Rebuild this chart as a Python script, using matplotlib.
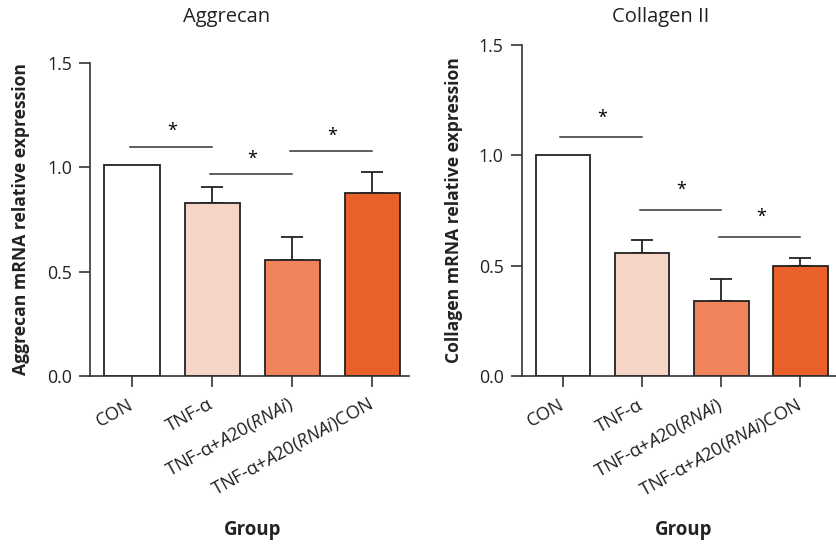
import numpy as np
import matplotlib
matplotlib.use('Agg')
import matplotlib.pyplot as plt

plt.rcParams['font.family'] = ['Open Sans', 'DejaVu Sans']
plt.rcParams['mathtext.fontset'] = 'custom'
plt.rcParams['mathtext.rm'] = 'Open Sans'
plt.rcParams['mathtext.it'] = 'Open Sans:italic'

## data
groups = ['CON', 'TNF-α', r'TNF-α+$\it{A20(RNAi)}$', r'TNF-α+$\it{A20(RNAi)}$CON']
aggrecan = [1.01, 0.83, 0.557, 0.875]
aggrecan_err = [0.0, 0.077, 0.11, 0.104]
aggrecan_sig = [(0, 1, 1.10), (1, 2, 0.968), (2, 3, 1.077)]
collagen = [1.00, 0.559, 0.341, 0.50]
collagen_err = [0.0, 0.057, 0.097, 0.036]
collagen_sig = [(0, 1, 1.081), (1, 2, 0.754), (2, 3, 0.631)]
colors = ['#FFFFFF', '#F6D5C6', '#F1845A', '#E9602A']

fig = plt.figure(figsize=(8.36, 5.44), dpi=100)
ax1 = fig.add_axes([0.1077, 0.3094, 0.3816, 0.5743])
ax2 = fig.add_axes([0.624, 0.3088, 0.376, 0.6085])

def draw(ax, vals, errs, sig, xlim, star_off):
    x = np.arange(len(vals))
    ax.bar(x, vals, width=0.69, color=colors, edgecolor='#222222', linewidth=1.3, zorder=2)
    ax.errorbar(x[1:], vals[1:], yerr=[np.zeros(3), errs[1:]], fmt='none',
                ecolor='#222222', elinewidth=1.3, capsize=8, capthick=1.3, zorder=1)
    for a, b, h in sig:
        ax.plot([a - 0.03, b], [h, h], color='#333333', linewidth=1.1)
        ax.text((a + b) / 2, h + star_off, '*', ha='center', va='center', fontsize=13)
    ax.set_xlim(*xlim)
    ax.set_ylim(0, 1.5)
    ax.set_yticks([0, 0.5, 1.0, 1.5])
    ax.set_yticklabels(['0.0', '0.5', '1.0', '1.5'])
    ax.set_xticks(x)
    ax.set_xticklabels(groups, rotation=29, ha='right', va='center', rotation_mode='anchor',
                       fontsize=13.2)
    for s in ['top', 'right']:
        ax.spines[s].set_visible(False)
    for s in ['left', 'bottom']:
        ax.spines[s].set_color('#333333')
        ax.spines[s].set_linewidth(1.2)
    ax.tick_params(axis='both', direction='out', length=8, width=1.2, color='#333333',
                   labelcolor='#222222')
    ax.tick_params(axis='y', labelsize=12.8, pad=5)
    ax.tick_params(axis='x', pad=12)

draw(ax1, aggrecan, aggrecan_err, aggrecan_sig, (-0.525, 3.46), 0.075)
draw(ax2, collagen, collagen_err, collagen_sig, (-0.52, 3.45), 0.088)

fig.text(227 / 836, 1 - 17 / 544, 'Aggrecan', ha='center', va='center', fontsize=14.5,
         color='#222222')
fig.text(661 / 836, 1 - 17 / 544, 'Collagen II', ha='center', va='center', fontsize=14.5,
         color='#222222')
fig.text(21 / 836, 1 - 219 / 544, 'Aggrecan mRNA relative expression', rotation=90,
         ha='center', va='center', fontsize=12.6, fontweight='bold', color='#222222')
fig.text(454 / 836, 1 - 210 / 544, 'Collagen mRNA relative expression', rotation=90,
         ha='center', va='center', fontsize=12.6, fontweight='bold', color='#222222')
fig.text(253 / 836, 1 - 530 / 544, 'Group', ha='center', va='center', fontsize=13.4,
         fontweight='bold', color='#222222')
fig.text(684 / 836, 1 - 530 / 544, 'Group', ha='center', va='center', fontsize=13.4,
         fontweight='bold', color='#222222')

fig.savefig('out.png', dpi=100)
